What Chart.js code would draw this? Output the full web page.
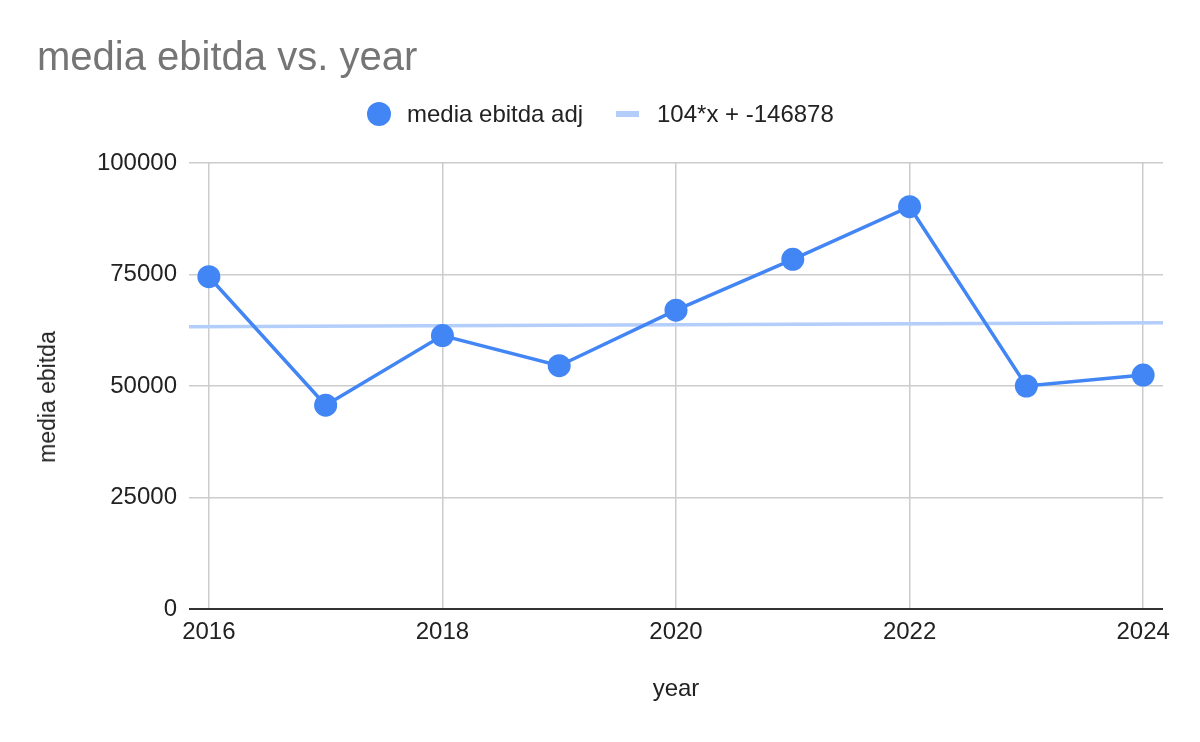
<!DOCTYPE html>
<html>
<head>
<meta charset="utf-8">
<script src="https://cdn.jsdelivr.net/npm/chart.js@4"></script>
<style>
  html, body { margin: 0; padding: 0; background: #fff; }
  body { width: 1200px; height: 742px; position: relative; overflow: hidden; font-family: "Liberation Sans", Arial, sans-serif; }
  #wrap { position: absolute; left: 0; top: 0; width: 1200px; height: 742px; }
  .title { position: absolute; left: 37px; top: 36px; font-size: 40px; line-height: 40px; color: #757575; white-space: nowrap; }
  .legend { position: absolute; top: 102px; height: 24px; font-size: 24px; line-height: 24px; color: #222; white-space: nowrap; }
  .dot { position: absolute; left: 367px; top: 102px; width: 24px; height: 24px; border-radius: 50%; background: #4285f4; }
  .bar { position: absolute; left: 616px; top: 111px; width: 23px; height: 6px; background: #b3cefb; }
  .ytitle { position: absolute; left: 47px; top: 397px; font-size: 23px; line-height: 28px; color: #222; white-space: nowrap;
            transform: translate(-50%, -50%) rotate(-90deg); }
</style>
</head>
<body>
<div id="wrap"><canvas id="chart" width="1200" height="742"></canvas></div>
<div class="title">media ebitda vs. year</div>
<div class="dot"></div>
<div class="legend" style="left:407px">media ebitda adj</div>
<div class="bar"></div>
<div class="legend" style="left:657px">104*x + -146878</div>
<div class="ytitle">media ebitda</div>
<script>
// ==============================
// DATA
// ==============================
const years = [2016, 2017, 2018, 2019, 2020, 2021, 2022, 2023, 2024];
const ebitda = [74500, 45700, 61300, 54550, 67000, 78400, 90200, 50000, 52450];

// trendline, at the plot edges
const trendX = [2015.83, 2024.17];
const trendY = [63300, 64200];

const xTicks = [2016, 2018, 2020, 2022, 2024];
const yTicks = [0, 25000, 50000, 75000, 100000];

const BLUE = "#4285f4";
const FONT = "'Liberation Sans', Arial, sans-serif";

// ==============================
// CHART
// ==============================
const ctx = document.getElementById("chart").getContext("2d");

new Chart(ctx, {
  type: "line",
  data: {
    datasets: [
      {
        label: "media ebitda adj",
        data: years.map((y, i) => ({ x: y, y: ebitda[i] })),
        borderColor: BLUE,
        backgroundColor: BLUE,
        borderWidth: 3.5,
        pointRadius: 11.5,
        pointBorderWidth: 0,
        pointBackgroundColor: BLUE,
        tension: 0,
        order: 1
      },
      {
        label: "104*x + -146878",
        data: trendX.map((x, i) => ({ x: x, y: trendY[i] })),
        borderColor: "#b3cefb",
        borderWidth: 3.5,
        pointRadius: 0,
        tension: 0,
        order: 2
      }
    ]
  },
  options: {
    responsive: false,
    animation: false,
    events: [],
    layout: { padding: { top: 163, right: 37, bottom: 0, left: 0 } },
    plugins: {
      legend: { display: false },
      title: { display: false },
      tooltip: { enabled: false }
    },
    scales: {
      x: {
        type: "linear",
        min: trendX[0],
        max: trendX[1],
        afterBuildTicks: s => { s.ticks = xTicks.map(v => ({ value: v })); },
        afterFit: s => { s.height = 133; },
        border: { display: false },
        grid: { color: "#cccccc", lineWidth: 1.5, drawTicks: false },
        ticks: {
          padding: 9,
          color: "#222",
          font: { family: FONT, size: 24 },
          callback: v => String(v)
        },
        title: {
          display: true,
          text: "year",
          color: "#222",
          font: { family: FONT, size: 24 },
          padding: { top: 0, bottom: 38 }
        }
      },
      y: {
        min: 0,
        max: 100000,
        afterBuildTicks: s => { s.ticks = yTicks.map(v => ({ value: v })); },
        afterFit: s => { s.width = 189; },
        border: { display: false },
        grid: {
          drawTicks: false,
          color: c => c.tick && c.tick.value === 0 ? "#333333" : "#cccccc",
          lineWidth: c => c.tick && c.tick.value === 0 ? 2 : 1.5
        },
        ticks: {
          padding: 12,
          color: "#222",
          font: { family: FONT, size: 24 },
          callback: v => String(v)
        },
        title: { display: false }
      }
    }
  }
});
</script>
</body>
</html>
